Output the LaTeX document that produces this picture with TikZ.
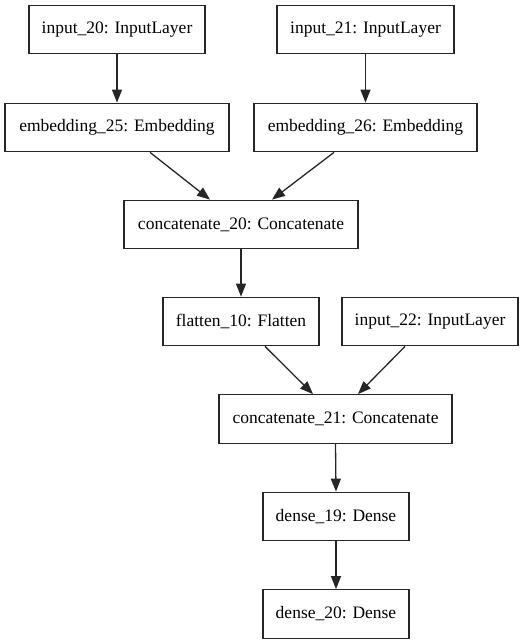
\documentclass[tikz,border=0pt]{standalone}
\usepackage{fontspec}
\setmainfont{Liberation Serif}
\usetikzlibrary{arrows.meta}
\begin{document}
\begin{tikzpicture}[x=1pt,y=1pt,
  layer/.style={draw=black!85,line width=1.3pt,minimum height=48.5pt,inner sep=0pt,font=\fontsize{17.5}{20}\selectfont},
  edge/.style={line width=1.3pt,draw=black!85,-{Triangle[length=13pt,width=10pt]}}]
\useasboundingbox (0,0) rectangle (524,644);
\node[layer,minimum width=176pt] (in20) at (117,614.5) {input\_20: InputLayer};
\node[layer,minimum width=177pt] (in21) at (365.5,614.5) {input\_21: InputLayer};
\node[layer,minimum width=224pt] (emb25) at (117,516.5) {embedding\_25: Embedding};
\node[layer,minimum width=223pt] (emb26) at (365.5,516.5) {embedding\_26: Embedding};
\node[layer,minimum width=234pt] (cat20) at (241,419.5) {concatenate\_20: Concatenate};
\node[layer,minimum width=156pt] (fl10) at (241,322.5) {flatten\_10: Flatten};
\node[layer,minimum width=176pt] (in22) at (430,322.5) {input\_22: InputLayer};
\node[layer,minimum width=233pt] (cat21) at (335.5,225) {concatenate\_21: Concatenate};
\node[layer,minimum width=146pt] (d19) at (336,127.5) {dense\_19: Dense};
\node[layer,minimum width=146pt] (d20) at (336,30) {dense\_20: Dense};
\draw[edge] (in20.south) -- (emb25.north);
\draw[edge] (in21.south) -- (emb26.north);
\draw[edge] ([xshift=33pt]emb25.south) -- ([xshift=-31pt]cat20.north);
\draw[edge] ([xshift=-31.5pt]emb26.south) -- ([xshift=31pt]cat20.north);
\draw[edge] (cat20.south) -- (fl10.north);
\draw[edge] ([xshift=24pt]fl10.south) -- ([xshift=-22.5pt]cat21.north);
\draw[edge] ([xshift=-25pt]in22.south) -- ([xshift=22.5pt]cat21.north);
\draw[edge] (cat21.south) -- (d19.north);
\draw[edge] (d19.south) -- (d20.north);
\end{tikzpicture}
\end{document}
